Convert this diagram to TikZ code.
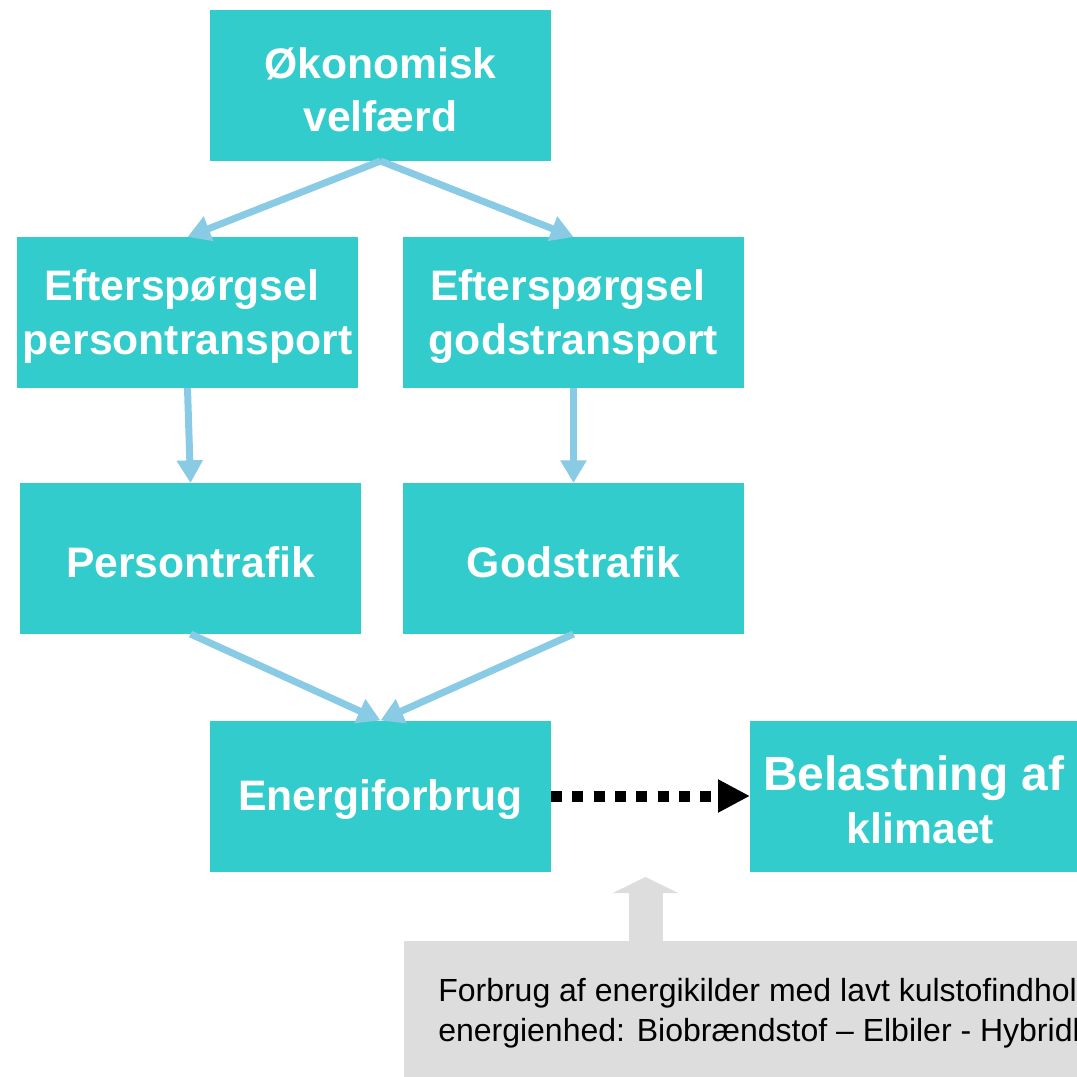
\documentclass[tikz,border=0pt]{standalone}
\usepackage{fontspec}
\setmainfont{Liberation Sans}
\usetikzlibrary{arrows.meta}
\definecolor{boxcyan}{RGB}{51,204,204}
\definecolor{arrowblue}{RGB}{137,202,228}
\definecolor{notegray}{RGB}{221,221,221}
\begin{document}
\begin{tikzpicture}[x=0.75pt,y=-0.75pt,
  cbox/.style={fill=boxcyan,draw=none,inner sep=0pt,outer sep=0pt,
    minimum width=255.75pt,minimum height=113.25pt},
  ctext/.style={text=white,font=\bfseries\fontsize{32}{40}\selectfont,align=center,
    inner sep=0pt,yshift=-3pt},
  bluearrow/.style={draw=arrowblue,line width=5.25pt,
    -{Triangle[length=17pt,width=18.75pt]}},
  dotarrow/.style={draw=black,line width=8.25pt,dash pattern=on 8.25pt off 7.75pt,
    -{Triangle[length=24pt,width=23.25pt]}},
  notetext/.style={font=\fontsize{24}{30}\selectfont,text=black,inner sep=0pt,anchor=base west}
]
\useasboundingbox (0,0) rectangle (1077,1077);
\clip (0,0) rectangle (1077,1077);

\node[cbox,label={[ctext]center:{Økonomisk\\velfærd}}] (eco) at (380.5,85.5) {};
\node[cbox,label={[ctext]center:{Efterspørgsel\rule{0.28em}{0pt}\\persontransport}}] (dpt) at (187.5,312.5) {};
\node[cbox,label={[ctext]center:{Efterspørgsel\rule{0.28em}{0pt}\\godstransport}}] (dgt) at (573.5,312.5) {};
\node[cbox,label={[ctext]center:{Persontrafik}}] (ptr) at (190.5,558.5) {};
\node[cbox,label={[ctext]center:{Godstrafik}}] (gtr) at (573.5,558.5) {};
\node[cbox,label={[ctext]center:{Energiforbrug}}] (ene) at (380.5,796) {};
\node[cbox,label={[ctext]center:{{\fontsize{36}{41}\selectfont Belastning af\rule{0.28em}{0pt}}\\klimaet}}] (bel) at (920.5,796) {};

\node[fill=notegray,draw=none,inner sep=0pt,outer sep=0pt,anchor=north west,
  minimum width=525pt,minimum height=112.5pt] (gb) at (404,941) {};
\node[notetext] (t1) at (438,1001) {Forbrug af energikilder med lavt kulstofindhold};
\node[notetext] (t2) at (438,1041) {energienhed: Biobrændstof – Elbiler - Hybridbiler};

\coordinate (gtip) at (645.5,877);
\draw[draw=notegray,line width=25.5pt,-{Triangle[length=12pt,width=48.75pt]}]
  (gb.north -| gtip) -- (gtip);

\draw[bluearrow] (eco.south) -- (dpt.north);
\draw[bluearrow] (eco.south) -- (dgt.north);
\draw[bluearrow] (dpt.south) -- (ptr.north);
\draw[bluearrow] (dgt.south) -- (gtr.north);
\draw[bluearrow] (ptr.south) -- (ene.north);
\draw[bluearrow] (gtr.south) -- (ene.north);
\draw[dotarrow] (ene.east) -- (bel.west);
\end{tikzpicture}
\end{document}
